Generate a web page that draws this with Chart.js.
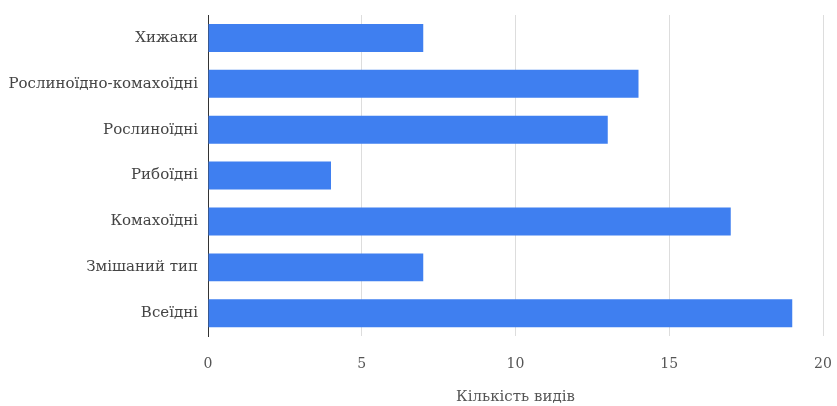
<!DOCTYPE html>
<html>
<head>
<meta charset="utf-8">
<script src="https://cdn.jsdelivr.net/npm/chart.js@4"></script>
<style>
  html, body { margin: 0; padding: 0; background: #fff; }
  #wrap { width: 837px; height: 406px; }
</style>
</head>
<body>
<div id="wrap"><canvas id="myChart" width="837" height="406"></canvas></div>
<script>
const categories = ['Хижаки', 'Рослиноїдно-комахоїдні', 'Рослиноїдні', 'Рибоїдні', 'Комахоїдні', 'Змішаний тип', 'Всеїдні'];
const speciesCount = [7, 14, 13, 4, 17, 7, 19];
const axisTitle = 'Кількість видів';

const fontFamily = "'DejaVu Serif', 'Liberation Serif', serif";

const ctx = document.getElementById('myChart').getContext('2d');
const myChart = new Chart(ctx, {
    type: 'bar',
    data: {
        labels: categories,
        datasets: [
            {
                label: axisTitle,
                data: speciesCount,
                backgroundColor: '#3f7ff0',
                barPercentage: 0.61,
                categoryPercentage: 1,
            },
        ],
    },
    options: {
        indexAxis: 'y',
        responsive: false,
        maintainAspectRatio: false,
        animation: false,
        layout: { padding: { top: 15, right: 14, bottom: 0, left: 0 } },
        plugins: {
            legend: { display: false },
            tooltip: { enabled: false },
        },
        scales: {
            x: {
                min: 0,
                max: 20,
                // tick marks hidden, their length only pushes the labels down
                ticks: { stepSize: 5, color: '#555', padding: 0, font: { family: fontFamily, size: 14 } },
                grid: { color: '#dddddd', tickColor: 'rgba(0,0,0,0)', tickLength: 20 },
                border: { display: false },
                title: {
                    display: true,
                    text: axisTitle,
                    color: '#555',
                    padding: { top: 15, bottom: 0 },
                    font: { family: fontFamily, size: 15 },
                },
            },
            y: {
                ticks: { color: '#444', padding: 2, font: { family: fontFamily, size: 15 } },
                grid: { display: false },
                border: { display: true, color: '#333', width: 1 },
                afterFit: (scale) => {
                    scale.width = 208;
                },
            },
        },
    },
});
</script>
</body>
</html>
